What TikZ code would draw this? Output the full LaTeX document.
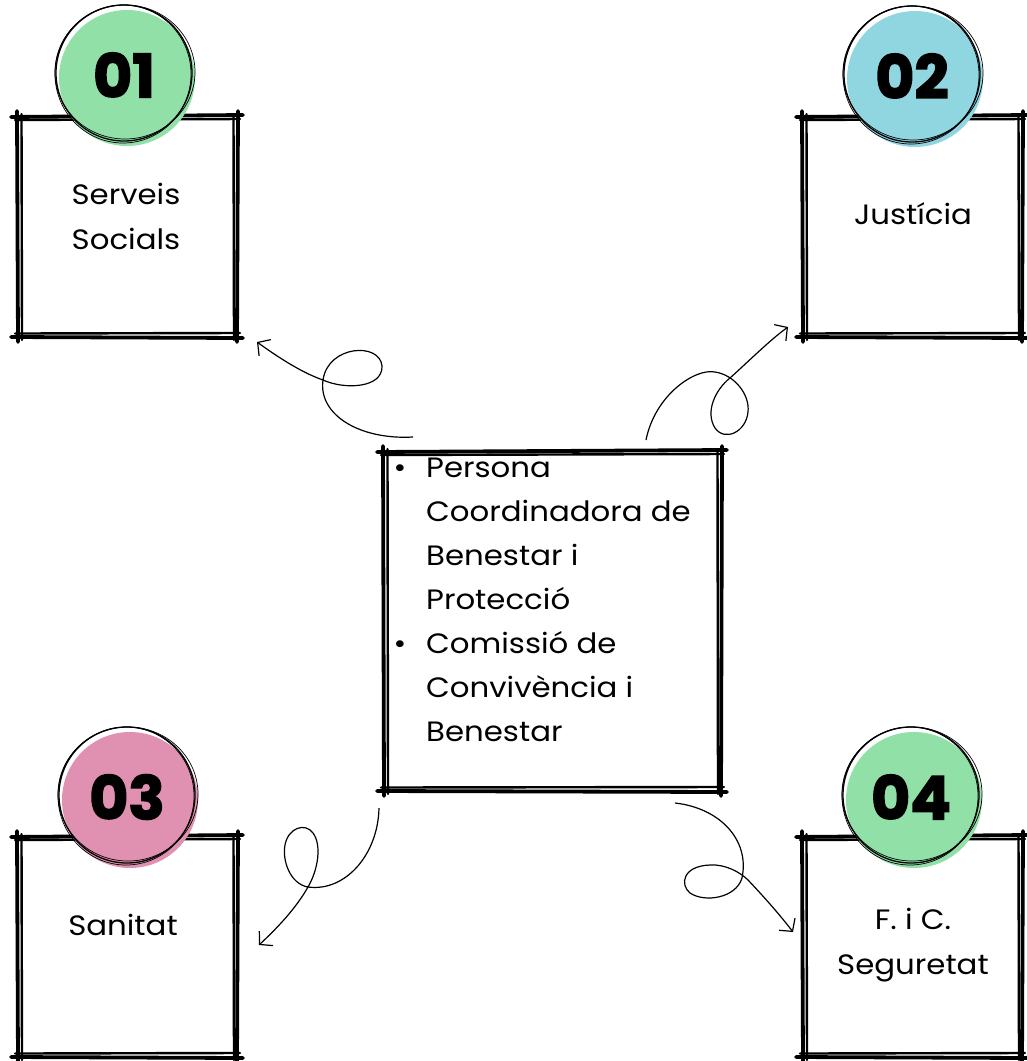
\documentclass[tikz,border=0pt]{standalone}
\usepackage{fontspec}
\setmainfont{Poppins}[FakeStretch=1.1]
\newfontfamily\numfont{Poppins}[BoldFeatures={FakeBold=2.5}]
\usetikzlibrary{arrows.meta}
\definecolor{cgreen}{HTML}{90E0A7}
\definecolor{cblue}{HTML}{90D6E1}
\definecolor{cpink}{HTML}{E090B0}
\tikzset{
  skA/.style={line width=3.8pt, line cap=round},
  skB/.style={line width=2.4pt, line cap=round},
  circA/.style={line width=1.3pt},
  circB/.style={line width=0.7pt},
  boxtxt/.style={font=\fontsize{28}{45}\selectfont, align=center, inner sep=0pt},
  numtxt/.style={font=\numfont\fontsize{60}{60}\selectfont\bfseries, inner sep=0pt},
  conn/.style={line width=1.2pt, -{Straight Barb[length=9pt,width=20pt,line width=1.2pt]}},
}
\newcommand\skbox[4]{%
  \draw[skA] (#1-6,#2+1) -- (#3+5,#2-1);
  \draw[skB] (#1-2,#2+4) -- (#3+2,#2+3);
  \draw[skA] (#1-6,#4) -- (#3+5,#4+1);
  \draw[skB] (#1-2,#4-3.5) -- (#3+2,#4-4);
  \draw[skA] (#1,#2-5) -- (#1+1,#4+5);
  \draw[skB] (#1+4.5,#2-2) -- (#1+5,#4+3);
  \draw[skA] (#3,#2-5) -- (#3-1,#4+5);
  \draw[skB] (#3-4.5,#2-2) -- (#3-4,#4+3);
}
\newcommand\skcirc[5]{%
  \fill[#3] (#1+3,#2+5) circle (68pt);
  \draw[circA] (#1,#2) circle (68pt);
  \draw[circB] (#1+1,#2-1) ellipse (70pt and 67pt);
  \draw[circB] (#1-1,#2+1) ellipse (68pt and 69pt);
  \node[numtxt] (#4) at (#1,#2+2) {#5};
}
\begin{document}
\begin{tikzpicture}[x=1pt,y=-1pt]
\useasboundingbox[fill=white] (0,0) rectangle (1027,1061);

% boxes
\skbox{17}{116}{238}{337}
\skbox{802}{116}{1023}{337}
\skbox{17}{836}{238}{1057}
\skbox{802}{836}{1023}{1057}
\skbox{383}{451}{722}{791}

% circles
\skcirc{124}{73}{cgreen}{n1}{01}
\skcirc{912}{74}{cblue}{n2}{02}
\skcirc{127}{795}{cpink}{n3}{03}
\skcirc{911}{795}{cgreen}{n4}{04}

% box texts
\node[boxtxt] (ss) at (126,216) {Serveis\\Socials};
\node[boxtxt] (ju) at (913,214) {Justícia};
\node[boxtxt] (sa) at (123,925) {Sanitat};
\node[boxtxt] (fc) at (913,945) {F. i C.\\Seguretat};

% center text
\node[anchor=north west, align=left, inner sep=0pt, font=\fontsize{28}{44}\selectfont] (ctr) at (426,458)
 {\llap{•\hspace{20pt}}Persona\\Coordinadora de\\Benestar i\\Protecció\\\llap{•\hspace{20pt}}Comissió de\\Convivència i\\Benestar};

% connectors
\coordinate (s1) at (413,437);
\coordinate (e1) at (257,342);
\coordinate (s2) at (646,440);
\coordinate (e2) at (788,327);
\coordinate (s3) at (379,808);
\coordinate (e3) at (259,945);
\coordinate (s4) at (675,803);
\coordinate (e4) at (793,932);

\draw[conn] (s1) .. controls (360,440) and (318,415) .. (323,380)
  .. controls (328,345) and (380,342) .. (382,366)
  .. controls (383,388) and (345,390) .. (323,380)
  .. controls (300,372) and (275,355) .. (e1);
\draw[conn] (s2) .. controls (655,395) and (695,368) .. (715,372)
  .. controls (735,375) and (750,395) .. (748,412)
  .. controls (746,432) and (725,442) .. (715,428)
  .. controls (705,412) and (715,390) .. (730,378)
  .. controls (750,360) and (770,340) .. (e2);
\draw[conn] (s3) .. controls (378,855) and (345,892) .. (308,887)
  .. controls (290,884) and (282,860) .. (285,845)
  .. controls (288,828) and (305,822) .. (313,833)
  .. controls (322,845) and (318,870) .. (308,887)
  .. controls (295,910) and (275,930) .. (e3);
\draw[conn] (s4) .. controls (720,808) and (750,840) .. (742,878)
  .. controls (736,898) and (705,903) .. (690,893)
  .. controls (680,885) and (682,866) .. (710,865)
  .. controls (725,864) and (740,872) .. (748,880)
  .. controls (765,898) and (780,915) .. (e4);
\end{tikzpicture}
\end{document}
